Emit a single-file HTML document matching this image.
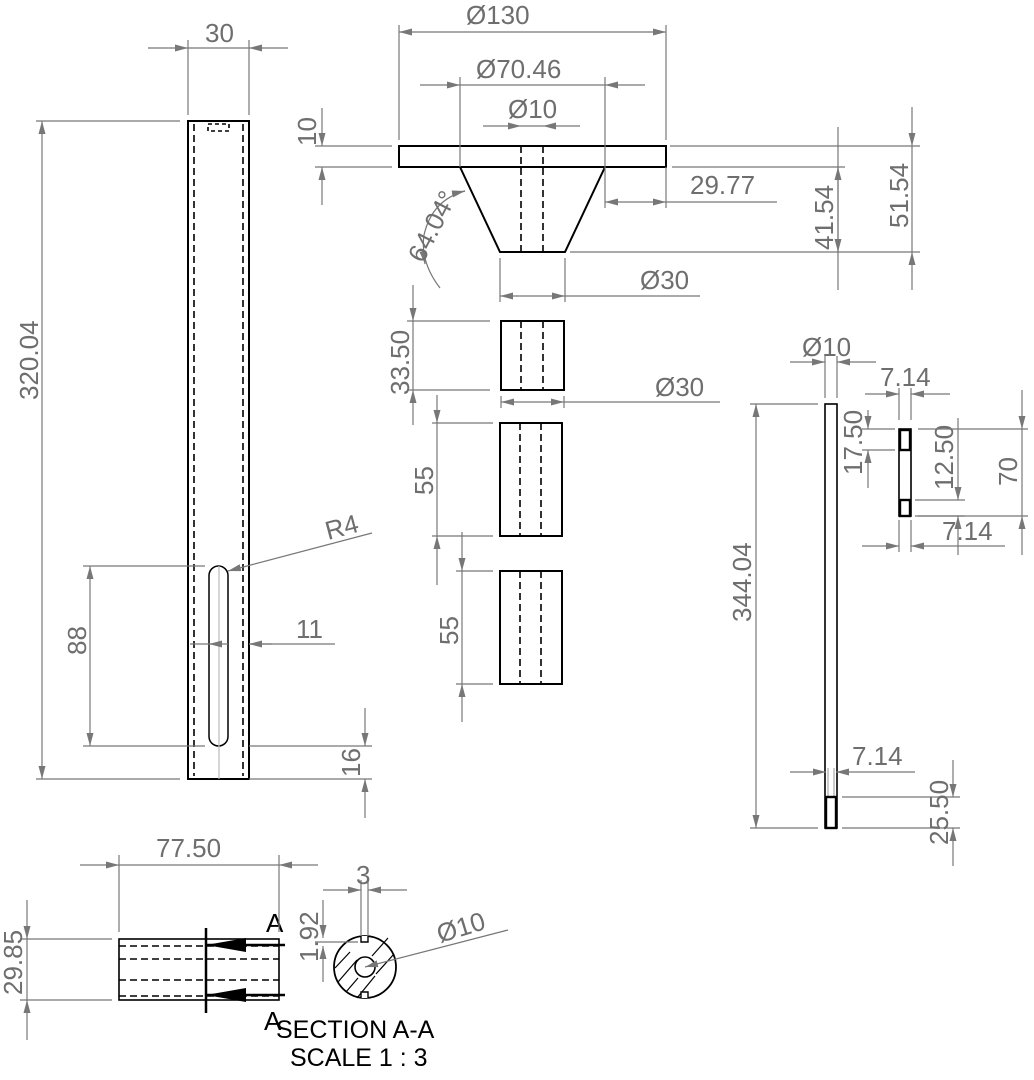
<!DOCTYPE html>
<html><head><meta charset="utf-8"><style>
html,body{margin:0;padding:0;background:#fff;}
svg{display:block;}
text{font-family:"Liberation Sans",sans-serif;fill:#6e6e6e;font-size:26px;}
.k{stroke:#000;stroke-width:2;fill:none;}
.g{stroke:#777;stroke-width:1.2;fill:none;}
.d{stroke:#000;stroke-width:1.6;stroke-dasharray:7,4;fill:none;}
</style></head><body>
<svg width="1034" height="1080" viewBox="0 0 1034 1080" xmlns="http://www.w3.org/2000/svg">
<defs>
<marker id="a" markerUnits="userSpaceOnUse" markerWidth="14" markerHeight="8" refX="13" refY="3.5" orient="auto"><path d="M0,0 L13,3.5 L0,7 z" fill="#777"/></marker>
</defs>

<!-- ===== LEFT TUBE ===== -->
<rect class="k" x="188" y="121" width="61" height="658"/>
<line class="d" x1="194" y1="124" x2="194" y2="776"/>
<line class="d" x1="243" y1="124" x2="243" y2="776"/>
<rect x="208" y="124" width="21" height="7" fill="none" stroke="#000" stroke-width="1.6" stroke-dasharray="4,3"/>
<rect class="k" x="209" y="566" width="19" height="180" rx="9.5" style="stroke-width:1.5"/>
<line class="g" x1="219" y1="566" x2="219" y2="779" style="stroke:#bbb"/>
<!-- 30 -->
<line class="g" x1="188" y1="40" x2="188" y2="115"/><line class="g" x1="249" y1="40" x2="249" y2="115"/>
<line class="g" x1="148" y1="48" x2="188" y2="48" marker-end="url(#a)"/><line class="g" x1="288" y1="48" x2="249" y2="48" marker-end="url(#a)"/>
<line class="g" x1="188" y1="48" x2="249" y2="48"/>
<text x="205" y="42">30</text>
<!-- 320.04 -->
<line class="g" x1="36" y1="121" x2="180" y2="121"/><line class="g" x1="36" y1="779" x2="180" y2="779"/>
<line class="g" x1="42" y1="450" x2="42" y2="121" marker-end="url(#a)"/><line class="g" x1="42" y1="450" x2="42" y2="779" marker-end="url(#a)"/>
<text transform="translate(38,400) rotate(-90)">320.04</text>
<!-- 88 -->
<line class="g" x1="83" y1="566" x2="205" y2="566"/><line class="g" x1="83" y1="746" x2="205" y2="746"/>
<line class="g" x1="90" y1="656" x2="90" y2="566" marker-end="url(#a)"/><line class="g" x1="90" y1="656" x2="90" y2="746" marker-end="url(#a)"/>
<text transform="translate(86,655) rotate(-90)">88</text>
<!-- R4 -->
<line class="g" x1="372" y1="533" x2="228" y2="571" marker-end="url(#a)"/>
<text transform="translate(328,540) rotate(-15)">R4</text>
<!-- 11 -->
<line class="g" x1="190" y1="644" x2="228" y2="644"/>
<line class="g" x1="212" y1="644" x2="209" y2="644" marker-end="url(#a)"/>
<line class="g" x1="335" y1="644" x2="249" y2="644"/>
<line class="g" x1="272" y1="644" x2="249" y2="644" marker-end="url(#a)"/>
<text x="296" y="638">11</text>
<!-- 16 -->
<line class="g" x1="249" y1="746" x2="372" y2="746"/><line class="g" x1="249" y1="779" x2="372" y2="779"/>
<line class="g" x1="365" y1="708" x2="365" y2="746" marker-end="url(#a)"/><line class="g" x1="365" y1="818" x2="365" y2="779" marker-end="url(#a)"/>
<text transform="translate(360,777) rotate(-90)">16</text>

<!-- ===== FLANGE PART ===== -->
<rect class="k" x="399" y="146" width="267" height="21"/>
<polyline class="k" points="460,167 500,252 565,252 605,167"/>
<line class="d" x1="521" y1="146" x2="521" y2="252"/><line class="d" x1="543" y1="146" x2="543" y2="252"/>
<!-- Ø130 -->
<line class="g" x1="399" y1="25" x2="399" y2="140"/><line class="g" x1="666" y1="25" x2="666" y2="140"/>
<line class="g" x1="530" y1="32" x2="399" y2="32" marker-end="url(#a)"/><line class="g" x1="530" y1="32" x2="666" y2="32" marker-end="url(#a)"/>
<text x="466" y="24">Ø130</text>
<!-- Ø70.46 -->
<line class="g" x1="460" y1="77" x2="460" y2="167"/><line class="g" x1="605" y1="77" x2="605" y2="167"/>
<line class="g" x1="420" y1="85" x2="460" y2="85" marker-end="url(#a)"/><line class="g" x1="645" y1="85" x2="605" y2="85" marker-end="url(#a)"/>
<line class="g" x1="460" y1="85" x2="605" y2="85"/>
<text x="476" y="78">Ø70.46</text>
<!-- Ø10 -->
<line class="g" x1="483" y1="126" x2="521" y2="126" marker-end="url(#a)"/>
<line class="g" x1="521" y1="126" x2="543" y2="126"/>
<line class="g" x1="580" y1="126" x2="543" y2="126" marker-end="url(#a)"/>
<text x="508" y="118">Ø10</text>
<!-- 10 -->
<line class="g" x1="315" y1="146" x2="392" y2="146"/><line class="g" x1="315" y1="167" x2="392" y2="167"/>
<line class="g" x1="322" y1="108" x2="322" y2="146" marker-end="url(#a)"/><line class="g" x1="322" y1="205" x2="322" y2="167" marker-end="url(#a)"/>
<text transform="translate(316,146) rotate(-90)">10</text>
<!-- 29.77 -->
<line class="g" x1="666" y1="167" x2="666" y2="208"/><line class="g" x1="605" y1="167" x2="605" y2="208"/>
<line class="g" x1="635" y1="202" x2="605" y2="202" marker-end="url(#a)"/><line class="g" x1="635" y1="202" x2="666" y2="202" marker-end="url(#a)"/>
<line class="g" x1="666" y1="202" x2="777" y2="202"/>
<text x="690" y="194">29.77</text>
<!-- 41.54 / 51.54 -->
<line class="g" x1="670" y1="146" x2="920" y2="146"/><line class="g" x1="672" y1="167" x2="845" y2="167"/>
<line class="g" x1="570" y1="252" x2="920" y2="252"/>
<line class="g" x1="838" y1="210" x2="838" y2="167" marker-end="url(#a)"/><line class="g" x1="838" y1="210" x2="838" y2="252" marker-end="url(#a)"/>
<line class="g" x1="838" y1="127" x2="838" y2="290"/>
<text transform="translate(833,250) rotate(-90)">41.54</text>
<line class="g" x1="912" y1="107" x2="912" y2="146" marker-end="url(#a)"/><line class="g" x1="912" y1="290" x2="912" y2="252" marker-end="url(#a)"/>
<line class="g" x1="912" y1="146" x2="912" y2="252"/>
<text transform="translate(908,228) rotate(-90)">51.54</text>
<!-- angle -->
<path class="g" d="M465,191 Q432,200 424,235 Q420,262 440,288"/>
<line class="g" x1="452" y1="194" x2="465" y2="191" marker-end="url(#a)"/>
<line class="g" x1="423" y1="252" x2="425" y2="264" marker-end="url(#a)"/>
<text transform="translate(423,264) rotate(-63)">64.04°</text>
<!-- Ø30 -->
<line class="g" x1="500" y1="258" x2="500" y2="302"/><line class="g" x1="565" y1="258" x2="565" y2="302"/>
<line class="g" x1="532" y1="296" x2="500" y2="296" marker-end="url(#a)"/><line class="g" x1="532" y1="296" x2="565" y2="296" marker-end="url(#a)"/>
<line class="g" x1="565" y1="296" x2="700" y2="296"/>
<text x="640" y="289">Ø30</text>

<!-- ===== SPACER 33.50 ===== -->
<rect class="k" x="501" y="321" width="63" height="69"/>
<line class="d" x1="521" y1="321" x2="521" y2="390"/><line class="d" x1="543" y1="321" x2="543" y2="390"/>
<line class="g" x1="407" y1="321" x2="490" y2="321"/><line class="g" x1="407" y1="390" x2="490" y2="390"/>
<line class="g" x1="413" y1="285" x2="413" y2="321" marker-end="url(#a)"/><line class="g" x1="413" y1="425" x2="413" y2="390" marker-end="url(#a)"/>
<line class="g" x1="413" y1="321" x2="413" y2="390"/>
<text transform="translate(409,395) rotate(-90)">33.50</text>
<line class="g" x1="501" y1="396" x2="501" y2="408"/><line class="g" x1="564" y1="396" x2="564" y2="408"/>
<line class="g" x1="532" y1="402" x2="501" y2="402" marker-end="url(#a)"/><line class="g" x1="532" y1="402" x2="564" y2="402" marker-end="url(#a)"/>
<line class="g" x1="564" y1="402" x2="720" y2="402"/>
<text x="655" y="396">Ø30</text>

<!-- ===== 55 blocks ===== -->
<rect class="k" x="500" y="423" width="62" height="113"/>
<line class="d" x1="520" y1="423" x2="520" y2="536"/><line class="d" x1="541" y1="423" x2="541" y2="536"/>
<line class="g" x1="432" y1="423" x2="493" y2="423"/><line class="g" x1="432" y1="536" x2="493" y2="536"/>
<line class="g" x1="437" y1="395" x2="437" y2="423" marker-end="url(#a)"/><line class="g" x1="437" y1="585" x2="437" y2="536" marker-end="url(#a)"/>
<line class="g" x1="437" y1="423" x2="437" y2="536"/>
<text transform="translate(433,495) rotate(-90)">55</text>
<rect class="k" x="500" y="571" width="62" height="113"/>
<line class="d" x1="520" y1="571" x2="520" y2="684"/><line class="d" x1="541" y1="571" x2="541" y2="684"/>
<line class="g" x1="456" y1="571" x2="493" y2="571"/><line class="g" x1="456" y1="684" x2="493" y2="684"/>
<line class="g" x1="462" y1="532" x2="462" y2="571" marker-end="url(#a)"/><line class="g" x1="462" y1="722" x2="462" y2="684" marker-end="url(#a)"/>
<line class="g" x1="462" y1="571" x2="462" y2="684"/>
<text transform="translate(458,645) rotate(-90)">55</text>

<!-- ===== RIGHT ROD ===== -->
<rect class="k" x="825" y="404" width="12" height="424" style="stroke-width:1.6"/>
<line x1="828" y1="768" x2="828" y2="797" stroke="#999" stroke-width="1"/><line x1="834" y1="768" x2="834" y2="797" stroke="#999" stroke-width="1"/>
<rect class="k" x="826" y="797" width="10" height="31" style="stroke-width:2.4"/>
<line class="g" x1="825" y1="356" x2="825" y2="398"/><line class="g" x1="837" y1="356" x2="837" y2="398"/>
<line class="g" x1="790" y1="362" x2="825" y2="362" marker-end="url(#a)"/><line class="g" x1="876" y1="362" x2="837" y2="362" marker-end="url(#a)"/>
<text x="802" y="356">Ø10</text>
<line class="g" x1="750" y1="404" x2="818" y2="404"/><line class="g" x1="750" y1="828" x2="818" y2="828"/>
<line class="g" x1="756" y1="616" x2="756" y2="404" marker-end="url(#a)"/><line class="g" x1="756" y1="616" x2="756" y2="828" marker-end="url(#a)"/>
<text transform="translate(751,622) rotate(-90)">344.04</text>
<line class="g" x1="790" y1="772" x2="826" y2="772" marker-end="url(#a)"/><line class="g" x1="915" y1="772" x2="836" y2="772" marker-end="url(#a)"/>
<text x="852" y="765">7.14</text>
<line class="g" x1="842" y1="797" x2="960" y2="797"/><line class="g" x1="842" y1="828" x2="960" y2="828"/>
<line class="g" x1="953" y1="760" x2="953" y2="797" marker-end="url(#a)"/><line class="g" x1="953" y1="866" x2="953" y2="828" marker-end="url(#a)"/>
<text transform="translate(948,845) rotate(-90)">25.50</text>

<!-- small part -->
<rect class="k" x="899" y="429" width="12" height="87" style="stroke-width:1.6"/>
<rect class="k" x="900" y="430" width="10" height="20" style="stroke-width:2.4"/>
<rect class="k" x="900" y="500" width="10" height="16" style="stroke-width:2.4"/>
<line class="g" x1="899" y1="388" x2="899" y2="420"/><line class="g" x1="911" y1="388" x2="911" y2="420"/>
<line class="g" x1="865" y1="394" x2="899" y2="394" marker-end="url(#a)"/><line class="g" x1="950" y1="394" x2="911" y2="394" marker-end="url(#a)"/>
<text x="880" y="386">7.14</text>
<line class="g" x1="862" y1="429" x2="895" y2="429"/><line class="g" x1="862" y1="450" x2="895" y2="450"/>
<line class="g" x1="868" y1="410" x2="868" y2="429" marker-end="url(#a)"/><line class="g" x1="868" y1="488" x2="868" y2="450" marker-end="url(#a)"/>
<text transform="translate(862,475) rotate(-90)">17.50</text>
<line class="g" x1="915" y1="500" x2="965" y2="500"/><line class="g" x1="915" y1="516" x2="965" y2="516"/>
<line class="g" x1="958" y1="418" x2="958" y2="500" marker-end="url(#a)"/><line class="g" x1="958" y1="555" x2="958" y2="516" marker-end="url(#a)"/>
<text transform="translate(953,490) rotate(-90)">12.50</text>
<line class="g" x1="918" y1="429" x2="1028" y2="429"/><line class="g" x1="918" y1="516" x2="1028" y2="516"/>
<line class="g" x1="1022" y1="390" x2="1022" y2="429" marker-end="url(#a)"/><line class="g" x1="1022" y1="555" x2="1022" y2="516" marker-end="url(#a)"/>
<line class="g" x1="1022" y1="429" x2="1022" y2="516"/>
<text transform="translate(1017,486) rotate(-90)">70</text>
<line class="g" x1="899" y1="520" x2="899" y2="552"/><line class="g" x1="911" y1="520" x2="911" y2="552"/>
<line class="g" x1="862" y1="546" x2="899" y2="546" marker-end="url(#a)"/><line class="g" x1="1005" y1="546" x2="911" y2="546" marker-end="url(#a)"/>
<text x="942" y="540">7.14</text>

<!-- ===== BOTTOM LEFT ===== -->
<rect class="k" x="119" y="939" width="160" height="61" style="stroke-width:1.6"/>
<line class="d" x1="119" y1="946" x2="279" y2="946"/><line class="d" x1="119" y1="959" x2="279" y2="959"/>
<line class="d" x1="119" y1="980" x2="279" y2="980"/><line class="d" x1="119" y1="996" x2="279" y2="996"/>
<line x1="206" y1="928" x2="206" y2="1013" stroke="#000" stroke-width="2.5"/>
<line x1="206" y1="945" x2="285" y2="945" stroke="#000" stroke-width="2.5"/>
<line x1="206" y1="995" x2="285" y2="995" stroke="#000" stroke-width="2.5"/>
<polygon points="206,945 246,938 246,952" fill="#000"/>
<polygon points="206,995 246,988 246,1002" fill="#000"/>
<text x="266" y="932" style="fill:#000">A</text>
<text x="264" y="1030" style="fill:#000">A</text>
<line class="g" x1="119" y1="855" x2="119" y2="932"/><line class="g" x1="279" y1="855" x2="279" y2="932"/>
<line class="g" x1="80" y1="865" x2="119" y2="865" marker-end="url(#a)"/><line class="g" x1="318" y1="865" x2="279" y2="865" marker-end="url(#a)"/>
<line class="g" x1="119" y1="865" x2="279" y2="865"/>
<text x="156" y="857">77.50</text>
<line class="g" x1="20" y1="939" x2="112" y2="939"/><line class="g" x1="20" y1="1000" x2="112" y2="1000"/>
<line class="g" x1="27" y1="900" x2="27" y2="939" marker-end="url(#a)"/><line class="g" x1="27" y1="1040" x2="27" y2="1000" marker-end="url(#a)"/>
<line class="g" x1="27" y1="939" x2="27" y2="1000"/>
<text transform="translate(22,995) rotate(-90)">29.85</text>
<!-- section circle -->
<circle class="k" cx="365" cy="967" r="31" style="stroke-width:1.8"/>
<circle cx="365" cy="967" r="10" fill="#fff" stroke="#000" stroke-width="1.6"/>
<path d="M338,982 L357,960 M346,992 L358,978 M372,956 L388,938 M357,998 L375,976 M376,974 L394,954 M335,968 L350,952" stroke="#000" stroke-width="1.2" fill="none"/>
<path d="M361,936 L361,942 L368,942 L368,936 M361,998 L361,992 L368,992 L368,998" stroke="#000" stroke-width="1.4" fill="#fff"/>
<line class="g" x1="361" y1="880" x2="361" y2="936"/><line class="g" x1="368" y1="880" x2="368" y2="936"/>
<line class="g" x1="323" y1="890" x2="361" y2="890" marker-end="url(#a)"/><line class="g" x1="407" y1="890" x2="368" y2="890" marker-end="url(#a)"/>
<text x="356" y="884">3</text>
<line class="g" x1="315" y1="942" x2="358" y2="942"/>
<line class="g" x1="323" y1="900" x2="323" y2="938" marker-end="url(#a)"/><line class="g" x1="323" y1="982" x2="323" y2="946" marker-end="url(#a)"/>
<text transform="translate(318,962) rotate(-90)">1.92</text>
<line class="g" x1="508" y1="930" x2="365" y2="967" marker-end="url(#a)"/>
<text transform="translate(440,943) rotate(-17)">Ø10</text>
<text x="276" y="1038" style="fill:#000;font-size:25px">SECTION A-A</text>
<text x="290" y="1066" style="fill:#000;font-size:25px">SCALE 1 : 3</text>
</svg>
</body></html>
